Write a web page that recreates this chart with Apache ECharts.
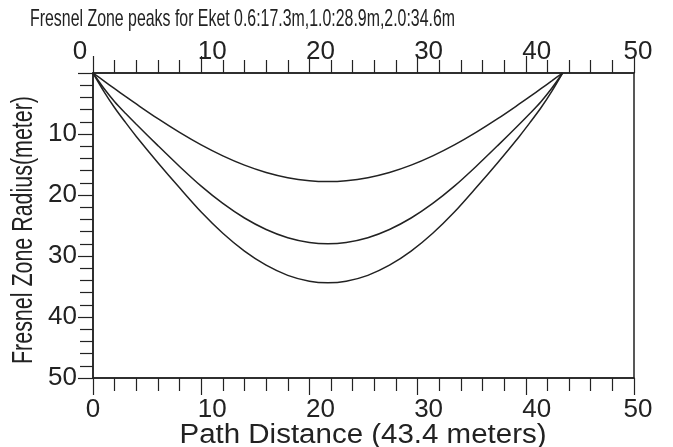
<!DOCTYPE html>
<html><head><meta charset="utf-8">
<script src="https://cdn.jsdelivr.net/npm/echarts@6/dist/echarts.min.js"></script>
<style>html,body{margin:0;padding:0;background:#fff}#c{width:673px;height:447px}</style>
</head><body><div id="c"></div>
<script>
const titleText = 'Fresnel Zone peaks for Eket 0.6:17.3m,1.0:28.9m,2.0:34.6m';
const xName = 'Path Distance (43.4 meters)';
const yName = 'Fresnel Zone Radius(meter)';
const distance = [0,1,2,3,4,6,8,10,12,14,16,18,20,21.7,23.4,25.4,27.4,29.4,31.4,33.4,35.4,37.4,39.4,40.4,41.4,42.4,43.4];
const zone06 = [0,1.29,2.57,3.84,5.08,7.49,9.74,11.79,13.59,15.11,16.31,17.16,17.66,17.8,17.66,17.16,16.31,15.11,13.59,11.79,9.74,7.49,5.08,3.84,2.57,1.29,0];
const zone10 = [0,2.5,4.7,6.6,8.4,11.9,15.32,18.55,21.38,23.77,25.65,27.0,27.78,28.0,27.78,27.0,25.65,23.77,21.38,18.55,15.32,11.9,8.4,6.6,4.7,2.5,0];
const zone20 = [0,3.0,5.7,8.1,10.4,14.7,18.82,22.79,26.27,29.2,31.51,33.17,34.14,34.4,34.14,33.17,31.51,29.2,26.27,22.79,18.82,14.7,10.4,8.1,5.7,3.0,0];
const xTicks = [0,10,20,30,40,50];
const yTicks = [10,20,30,40,50];

const FONT = '"Liberation Sans", Arial, sans-serif';
const INK = '#222';
function measure(text, font){
  const ctx = document.createElement('canvas').getContext('2d');
  ctx.font = font; return ctx.measureText(text).width;
}
const titleFont = '24px "Liberation Sans"';
const titleScale = 425 / measure(titleText, titleFont);
const yFont = '29px "Liberation Sans"';
const yScale = 268 / measure(yName, yFont);
const xFont = '27px "Liberation Sans"';
const xScale = 367 / measure(xName, xFont);

const rich = {
  n:{fontSize:26,fontFamily:FONT,color:INK},
  a:{fontSize:26,fontFamily:FONT,color:INK,padding:[0,0,0,22]},
  b:{fontSize:26,fontFamily:FONT,color:INK,padding:[0,26,0,0]},
  c:{fontSize:26,fontFamily:FONT,color:INK,padding:[0,0,0,8]}
};
function toPairs(ys){ return distance.map((d,i)=>[d, ys[i]]); }
function xAxisCfg(pos, zeroStyle, margin){
  return {
    type:'value', position:pos, min:0, max:50, interval:10,
    axisLine:{show:true, onZero:false, lineStyle:{color:INK, width:1.5}},
    axisTick:{show:true, inside:false, length:17, lineStyle:{color:INK, width:1.2}},
    minorTick:{show:true, splitNumber:5, length:13, lineStyle:{color:INK, width:1.2}},
    splitLine:{show:false},
    axisLabel:{margin:margin, rich:rich, formatter:function(v){
      if (xTicks.indexOf(v) < 0) return '';
      let s = v===0 ? zeroStyle : (v===50 ? 'c' : 'a');
      return '{'+s+'|'+v+'}';
    }}
  };
}
const chart = echarts.init(document.getElementById('c'), null, {renderer:'canvas'});
const lineCfg = {type:'line', showSymbol:false, smooth:0.3, lineStyle:{color:INK, width:1.5}, itemStyle:{color:INK}, silent:true};
chart.setOption({
  animation:false,
  backgroundColor:'#fff',
  grid:{left:93, top:73, right:39, bottom:69, show:true, borderColor:INK, borderWidth:1.5, backgroundColor:'transparent'},
  xAxis:[ xAxisCfg('bottom','n',19), xAxisCfg('top','b',8) ],
  yAxis:{
    type:'value', inverse:true, min:0, max:50, interval:10,
    axisLine:{show:true, onZero:false, lineStyle:{color:INK, width:1.5}},
    axisTick:{show:true, length:15, lineStyle:{color:INK, width:1.2}},
    minorTick:{show:true, splitNumber:5, length:13, lineStyle:{color:INK, width:1.2}},
    splitLine:{show:false},
    axisLabel:{margin:16, fontSize:26, fontFamily:FONT, color:INK, formatter:function(v){ return yTicks.indexOf(v)>=0 ? String(v) : ''; }}
  },
  series:[
    Object.assign({name:'0.6', data:toPairs(zone06)}, lineCfg),
    Object.assign({name:'1.0', data:toPairs(zone10)}, lineCfg),
    Object.assign({name:'2.0', data:toPairs(zone20)}, lineCfg)
  ],
  graphic:[
    {type:'text', x:30+425/2, y:19, scaleX:titleScale, style:{text:titleText, font:titleFont, fill:INK, align:'center', verticalAlign:'middle'}},
    {type:'text', x:24, y:230, rotation:Math.PI/2, scaleX:yScale, style:{text:yName, font:yFont, fill:INK, align:'center', verticalAlign:'middle'}},
    {type:'text', x:363, y:436, scaleX:xScale, style:{text:xName, font:xFont, fill:INK, align:'center', verticalAlign:'middle'}}
  ]
});
</script></body></html>
